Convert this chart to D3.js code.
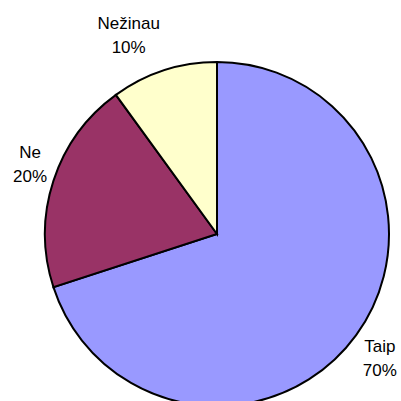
<!DOCTYPE html>
<html lang="lt">
<head>
  <meta charset="UTF-8" />
  <title>Pie</title>
  <script src="https://cdn.jsdelivr.net/npm/d3@7"></script>
  <style>
    body, html { margin:0; padding:0; background:#fff; }
    svg { display:block; }
    .label { font: 17px "Liberation Sans", Arial, sans-serif; fill:#000; text-anchor:middle; }
  </style>
</head>
<body>
  <svg id="chart" width="401" height="401"></svg>
  <script>
    const categories = ['Taip', 'Ne', 'Nežinau'];
    const values = [70, 20, 10];
    const colors = ['#9999ff', '#993366', '#ffffcc'];

    const cx = 217, cy = 234, radius = 172;
    // small per-label nudges, Excel doesn't place labels purely radially
    const nudge = { 'Taip': [-3, 4], 'Ne': [8, -7], 'Nežinau': [-25, -4] };

    const data = categories.map((c, i) => ({ name: c, value: values[i], color: colors[i] }));
    const total = d3.sum(values);

    const svg = d3.select('#chart');
    const g = svg.append('g').attr('transform', `translate(${cx},${cy})`);

    const pie = d3.pie().sort(null).value(d => d.value);
    const arc = d3.arc().innerRadius(0).outerRadius(radius);
    const labelArc = d3.arc().innerRadius(205).outerRadius(205);
    const arcs = pie(data);

    g.selectAll('path')
      .data(arcs)
      .join('path')
        .attr('d', arc)
        .attr('fill', d => d.data.color)
        .attr('stroke', '#000')
        .attr('stroke-width', 2)
        .attr('stroke-linejoin', 'miter');

    const labels = g.selectAll('g.lbl')
      .data(arcs)
      .join('g')
        .attr('class', 'lbl')
        .attr('transform', d => {
          const [x, y] = labelArc.centroid(d);
          const n = nudge[d.data.name];
          return `translate(${x + n[0]},${y + n[1]})`;
        });

    labels.append('text')
      .attr('class', 'label')
      .attr('y', -6)
      .text(d => d.data.name);
    labels.append('text')
      .attr('class', 'label')
      .attr('y', 18)
      .text(d => Math.round(d.data.value / total * 100) + '%');
  </script>
</body>
</html>
